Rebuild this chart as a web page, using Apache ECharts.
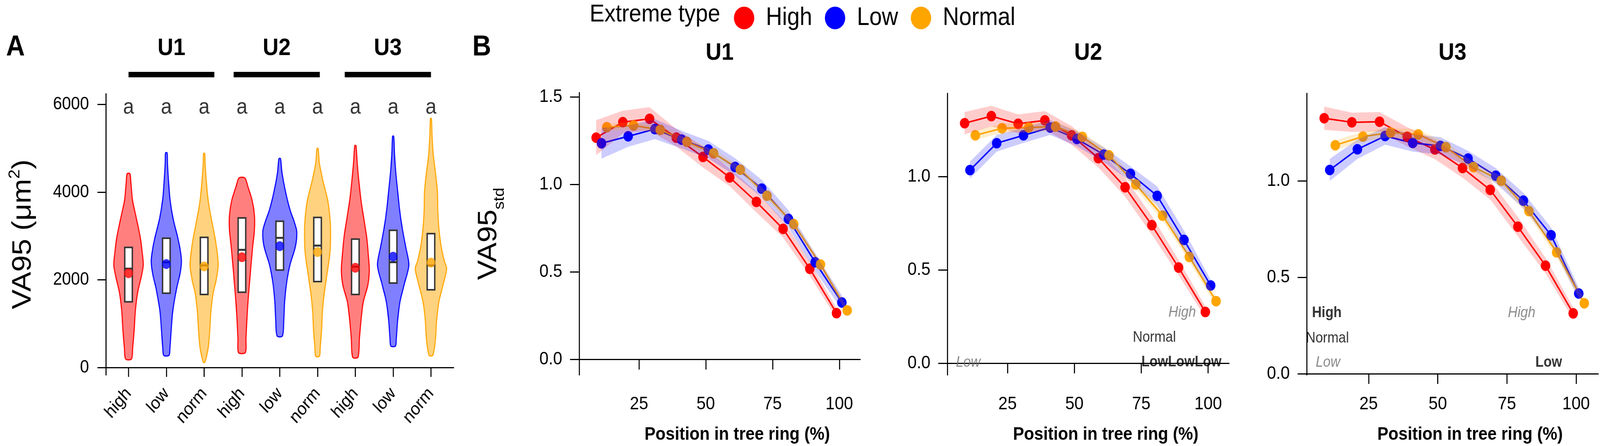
<!DOCTYPE html>
<html>
<head>
    <meta charset="utf-8">
    <title>VA95 by extreme type</title>
    <script src="https://cdn.jsdelivr.net/npm/echarts@6/dist/echarts.min.js"></script>
    <style>html, body { margin: 0; padding: 0; background: #fff; overflow: hidden; }</style>
</head>
<body>
    <div id="main" style="width:4550px;height:1142px;"></div>
    <script type="text/javascript">
        var FONT = "Liberation Sans, Arial, Helvetica, sans-serif";
        var COLORS = { High: "#FF0000", Low: "#0000FF", Normal: "#FFA500" };
        var FILLS = { High: "rgba(255,0,0,0.5)", Low: "rgba(0,0,255,0.5)", Normal: "rgba(255,165,0,0.5)" };
        var BANDS = { High: "rgba(255,0,0,0.2)", Low: "rgba(0,0,255,0.2)", Normal: "rgba(255,165,0,0.2)" };

        // ---- panel A : VA95 violins ----
        var violinLabels = ["high", "low", "norm", "high", "low", "norm", "high", "low", "norm"];
        var violinPos = [1, 2, 3, 4, 5, 6, 7, 8, 9];
        var sigLetters = ["a", "a", "a", "a", "a", "a", "a", "a", "a"];
        // [VA95, half width] from top to bottom of each violin
        var violinShapes = [
            [[4421, 0.036], [4232, 0.06], [3811, 0.107], [3391, 0.21], [2970, 0.31], [2634, 0.36], [2339, 0.39], [2045, 0.33], [1708, 0.24], [1288, 0.18], [868, 0.15], [447, 0.11], [194, 0.077]],
            [[4896, 0.02], [4652, 0.03], [4232, 0.06], [3811, 0.10], [3391, 0.18], [2970, 0.30], [2718, 0.36], [2423, 0.40], [2129, 0.36], [1793, 0.27], [1288, 0.17], [868, 0.13], [447, 0.095], [279, 0.07]],
            [[4883, 0.015], [4652, 0.024], [4232, 0.06], [3811, 0.107], [3391, 0.19], [2970, 0.285], [2549, 0.356], [2297, 0.37], [1961, 0.31], [1708, 0.24], [1288, 0.18], [868, 0.15], [447, 0.107], [119, 0.02]],
            [[4324, 0.077], [4147, 0.15], [3811, 0.27], [3475, 0.33], [3138, 0.33], [2760, 0.285], [2339, 0.24], [1919, 0.20], [1498, 0.16], [1078, 0.13], [657, 0.107], [342, 0.09]],
            [[4766, 0.02], [4442, 0.06], [4021, 0.15], [3601, 0.27], [3306, 0.39], [3096, 0.45], [2760, 0.415], [2339, 0.27], [1919, 0.18], [1498, 0.13], [1078, 0.107], [720, 0.07]],
            [[4997, 0.015], [4652, 0.05], [4232, 0.15], [3811, 0.27], [3391, 0.33], [3054, 0.345], [2634, 0.33], [2129, 0.25], [1708, 0.18], [1288, 0.13], [868, 0.107], [447, 0.07], [258, 0.05]],
            [[5064, 0.015], [4652, 0.05], [4232, 0.095], [3811, 0.15], [3391, 0.225], [2970, 0.30], [2549, 0.345], [2213, 0.37], [1877, 0.33], [1498, 0.21], [1078, 0.15], [657, 0.107], [237, 0.07]],
            [[5274, 0.015], [4862, 0.036], [4442, 0.07], [4021, 0.12], [3601, 0.17], [3180, 0.24], [2760, 0.33], [2339, 0.415], [1919, 0.30], [1498, 0.18], [1078, 0.12], [657, 0.083], [489, 0.06]],
            [[5682, 0.012], [5283, 0.03], [4862, 0.06], [4442, 0.12], [4021, 0.17], [3601, 0.18], [3180, 0.21], [2760, 0.27], [2423, 0.356], [2255, 0.415], [1919, 0.33], [1498, 0.21], [1078, 0.15], [657, 0.12], [279, 0.05]]
        ];
        var boxQ1 = [1498, 1696, 1666, 1717, 2222, 1961, 1667, 1927, 1772];
        var boxMedian = [2255, 2400, 2330, 2684, 2957, 2781, 2300, 2402, 2330];
        var boxQ3 = [2739, 2949, 2970, 3412, 3336, 3424, 2928, 3130, 3054];
        var groupMeans = [2150, 2360, 2306, 2516, 2768, 2634, 2276, 2528, 2394];
        var unitNames = ["U1", "U2", "U3"];
        var unitBarFrom = [1.0, 3.78, 6.72];
        var unitBarTo = [3.27, 6.06, 9.0];

        // ---- panel B : VA95std along the ring ----
        var ringPos = [10, 20, 30, 40, 50, 60, 70, 80, 90, 100];
        var extremeTypes = ["High", "Low", "Normal"];
        var dodge = { High: -1.05, Low: 0.95, Normal: 2.95 };

        var u1High = [1.267, 1.356, 1.375, 1.267, 1.157, 1.040, 0.900, 0.746, 0.518, 0.264];
        var u1Low = [1.235, 1.275, 1.316, 1.256, 1.199, 1.100, 0.976, 0.803, 0.555, 0.325];
        var u1Normal = [1.327, 1.337, 1.312, 1.243, 1.178, 1.084, 0.935, 0.773, 0.542, 0.280];
        var u1HighCI = [0.10, 0.065, 0.067, 0.05, 0.06, 0.05, 0.06, 0.05, 0.04, 0.03];
        var u1LowCI = [0.088, 0.06, 0.057, 0.05, 0.05, 0.05, 0.05, 0.05, 0.05, 0.04];
        var u1NormalCI = [0.02, 0.02, 0.02, 0.02, 0.02, 0.02, 0.02, 0.02, 0.02, 0.02];

        var u2High = [1.285, 1.323, 1.282, 1.300, 1.220, 1.098, 0.942, 0.739, 0.512, 0.274];
        var u2Low = [1.034, 1.178, 1.220, 1.262, 1.201, 1.117, 1.014, 0.896, 0.660, 0.416];
        var u2Normal = [1.220, 1.258, 1.262, 1.267, 1.212, 1.113, 0.957, 0.790, 0.569, 0.332];
        var u2HighCI = [0.06, 0.055, 0.05, 0.05, 0.05, 0.05, 0.05, 0.05, 0.04, 0.03];
        var u2LowCI = [0.045, 0.045, 0.04, 0.04, 0.04, 0.04, 0.04, 0.05, 0.05, 0.03];
        var u2NormalCI = [0.025, 0.025, 0.025, 0.025, 0.025, 0.025, 0.025, 0.025, 0.025, 0.025];

        var u3High = [1.324, 1.303, 1.306, 1.228, 1.162, 1.066, 0.953, 0.762, 0.560, 0.313];
        var u3Low = [1.056, 1.163, 1.232, 1.196, 1.181, 1.115, 1.026, 0.897, 0.718, 0.416];
        var u3Normal = [1.184, 1.229, 1.250, 1.240, 1.174, 1.071, 1.000, 0.843, 0.629, 0.365];
        var u3HighCI = [0.06, 0.05, 0.05, 0.05, 0.05, 0.05, 0.05, 0.05, 0.04, 0.03];
        var u3LowCI = [0.057, 0.05, 0.045, 0.045, 0.045, 0.04, 0.04, 0.04, 0.04, 0.03];
        var u3NormalCI = [0.025, 0.025, 0.025, 0.025, 0.025, 0.025, 0.025, 0.025, 0.025, 0.025];

        // stray text labels inside U2 / U3
        var u2AnnotX = [10.3, 90.3, 79.9, 90.0];
        var u2AnnotY = [0.004, 0.27, 0.136, 0.004];
        var u2AnnotText = ["Low", "High", "Normal", "LowLowLow"];
        var u2AnnotStyle = ["gi", "gi", "p", "b"];
        var u3AnnotX = [9.9, 10.1, 10.3, 80.3, 90.1];
        var u3AnnotY = [0.314, 0.184, 0.057, 0.314, 0.057];
        var u3AnnotText = ["High", "Normal", "Low", "High", "Low"];
        var u3AnnotStyle = ["b", "p", "gi", "gi", "b"];

        var panelValues = [
            { High: u1High, Low: u1Low, Normal: u1Normal },
            { High: u2High, Low: u2Low, Normal: u2Normal },
            { High: u3High, Low: u3Low, Normal: u3Normal }
        ];
        var panelCI = [
            { High: u1HighCI, Low: u1LowCI, Normal: u1NormalCI },
            { High: u2HighCI, Low: u2LowCI, Normal: u2NormalCI },
            { High: u3HighCI, Low: u3LowCI, Normal: u3NormalCI }
        ];

        // ---- layout (drawn on a 4550 x 1142 board, then fitted to the window) ----
        var grids = [
            { left: 301, top: 240, width: 989, height: 720 },
            { left: 1647, top: 237, width: 799, height: 723 },
            { left: 2694, top: 239, width: 801, height: 721 },
            { left: 3716, top: 239, width: 829, height: 721 }
        ];
        var yRanges = [[-169, 6245], [-0.089, 1.525], [-0.063, 1.445], [-0.006, 1.453]];
        var xRanges = [[0.4, 9.6], [2.6, 107.8], [2.5, 107.8], [2.64, 108]];
        var BOX_HALF = 0.10;

        function typeOf(label) {
            return label === "high" ? "High" : (label === "low" ? "Low" : "Normal");
        }

        var axisLine = { lineStyle: { color: "#000", width: 3 } };
        var axisTickStyle = { color: "#000", width: 3 };

        var xAxes = [{
            type: "value", gridIndex: 0, min: xRanges[0][0], max: xRanges[0][1],
            axisLine: axisLine, splitLine: { show: false },
            axisTick: { customValues: violinPos, length: 24, lineStyle: axisTickStyle },
            axisLabel: {
                customValues: violinPos, rotate: 48, margin: 40,
                fontSize: 46, fontFamily: FONT, color: "#000",
                formatter: function (v) { return violinLabels[Math.round(v) - 1]; }
            }
        }];
        var yAxes = [{
            type: "value", gridIndex: 0, min: yRanges[0][0], max: yRanges[0][1],
            axisLine: { show: true, lineStyle: { color: "#000", width: 3 } }, splitLine: { show: false },
            axisTick: { show: true, customValues: [0, 2000, 4000, 6000], length: 24, lineStyle: axisTickStyle },
            axisLabel: {
                customValues: [0, 2000, 4000, 6000], margin: 48, fontSize: 46, fontFamily: FONT, color: "#000",
                formatter: function (v) { return String(v); }
            },
            name: "{t|VA95 (\u03bcm}{s|2}{t|)}", nameLocation: "middle", nameGap: 190,
            nameTextStyle: {
                rich: {
                    t: { fontSize: 76, fontFamily: FONT, color: "#000", lineHeight: 90 },
                    s: { fontSize: 44, fontFamily: FONT, color: "#000", lineHeight: 44, verticalAlign: "top" }
                }
            }
        }];
        for (var p = 1; p <= 3; p++) {
            xAxes.push({
                type: "value", gridIndex: p, min: xRanges[p][0], max: xRanges[p][1],
                axisLine: axisLine, splitLine: { show: false },
                axisTick: { customValues: [25, 50, 75, 100], length: 26, lineStyle: axisTickStyle },
                axisLabel: { customValues: [25, 50, 75, 100], margin: 52, fontSize: 47, fontFamily: FONT, color: "#000" },
                name: "Position in tree ring (%)", nameLocation: "middle", nameGap: 130,
                nameTextStyle: { fontSize: 47, fontWeight: "bold", fontFamily: FONT, color: "#000", padding: [0, 0, 0, 100] }
            });
            var yTicks = p === 1 ? [0, 0.5, 1, 1.5] : [0, 0.5, 1];
            var ya = {
                type: "value", gridIndex: p, min: yRanges[p][0], max: yRanges[p][1],
                axisLine: { show: true, lineStyle: { color: "#000", width: 3 } }, splitLine: { show: false },
                axisTick: { show: true, customValues: yTicks, length: 26, lineStyle: axisTickStyle },
                axisLabel: {
                    customValues: yTicks, margin: 48, fontSize: 47, fontFamily: FONT, color: "#000",
                    formatter: function (v) { return v.toFixed(1); }
                }
            };
            if (p === 1) {
                ya.name = "{t|VA95}{s|std}";
                ya.nameLocation = "middle";
                ya.nameGap = 205;
                ya.nameTextStyle = {
                    rich: {
                        t: { fontSize: 76, fontFamily: FONT, color: "#000", lineHeight: 90, verticalAlign: "top" },
                        s: { fontSize: 42, fontFamily: FONT, color: "#000", lineHeight: 90, verticalAlign: "bottom" }
                    }
                };
            }
            yAxes.push(ya);
        }

        var series = [];

        // violins
        series.push({
            type: "custom", xAxisIndex: 0, yAxisIndex: 0, z: 2,
            data: violinPos.map(function (x, i) { return [x, groupMeans[i]]; }),
            renderItem: function (params, api) {
                var i = params.dataIndex;
                var pos = api.value(0);
                var shape = violinShapes[i];
                var pts = [], k;
                for (k = 0; k < shape.length; k++) pts.push(api.coord([pos + shape[k][1], shape[k][0]]));
                for (k = shape.length - 1; k >= 0; k--) pts.push(api.coord([pos - shape[k][1], shape[k][0]]));
                var t = typeOf(violinLabels[i]);
                return {
                    type: "polygon", shape: { points: pts, smooth: 0.3 },
                    style: { fill: FILLS[t], stroke: COLORS[t], lineWidth: 3 }
                };
            }
        });
        // boxes
        series.push({
            type: "custom", xAxisIndex: 0, yAxisIndex: 0, z: 3,
            data: violinPos.map(function (x, i) { return [x, boxQ1[i], boxMedian[i], boxQ3[i]]; }),
            renderItem: function (params, api) {
                var pos = api.value(0);
                var tl = api.coord([pos - BOX_HALF, api.value(3)]);
                var br = api.coord([pos + BOX_HALF, api.value(1)]);
                var ml = api.coord([pos - BOX_HALF, api.value(2)]);
                var mr = api.coord([pos + BOX_HALF, api.value(2)]);
                return {
                    type: "group", children: [
                        { type: "rect", shape: { x: tl[0], y: tl[1], width: br[0] - tl[0], height: br[1] - tl[1] },
                          style: { fill: "#fff", stroke: "#333", lineWidth: 4 } },
                        { type: "line", shape: { x1: ml[0], y1: ml[1], x2: mr[0], y2: mr[1] },
                          style: { stroke: "#333", lineWidth: 5 } }
                    ]
                };
            }
        });
        // means
        series.push({
            type: "scatter", xAxisIndex: 0, yAxisIndex: 0, z: 4, symbolSize: 25,
            data: violinPos.map(function (x, i) {
                return { value: [x, groupMeans[i]], itemStyle: { color: COLORS[typeOf(violinLabels[i])] } };
            })
        });
        // significance letters
        series.push({
            type: "scatter", xAxisIndex: 0, yAxisIndex: 0, symbolSize: 0,
            data: violinPos.map(function (x) { return [x, 5930]; }),
            label: {
                show: true, position: "inside", fontSize: 56, fontFamily: FONT, color: "#000",
                formatter: function (d) { return sigLetters[d.dataIndex]; }
            }
        });
        // unit bars over panel A
        series.push({
            type: "custom", xAxisIndex: 0, yAxisIndex: 0, clip: false,
            data: unitNames.map(function (n, i) { return [unitBarFrom[i], unitBarTo[i]]; }),
            renderItem: function (params, api) {
                var a = api.coord([api.value(0), 6681]);
                var b = api.coord([api.value(1), 6681]);
                var c = api.coord([(api.value(0) + api.value(1)) / 2, 7278]);
                return {
                    type: "group", children: [
                        { type: "line", shape: { x1: a[0], y1: a[1], x2: b[0], y2: b[1] }, style: { stroke: "#000", lineWidth: 14 } },
                        { type: "text", x: c[0], y: c[1], style: {
                            text: unitNames[params.dataIndex], align: "center", verticalAlign: "middle",
                            fontSize: 62, fontWeight: "bold", fontFamily: FONT, fill: "#000" } }
                    ]
                };
            }
        });

        // panel B lines, points and ribbons
        function bandRenderer(vals, ci, off, fill) {
            return function (params, api) {
                var upper = [], lower = [];
                for (var k = 0; k < ringPos.length; k++) {
                    upper.push(api.coord([ringPos[k] + off, vals[k] + ci[k]]));
                    lower.unshift(api.coord([ringPos[k] + off, vals[k] - ci[k]]));
                }
                return { type: "polygon", shape: { points: upper.concat(lower) }, style: { fill: fill } };
            };
        }
        for (var q = 0; q < 3; q++) {
            extremeTypes.forEach(function (t) {
                var vals = panelValues[q][t];
                series.push({
                    name: t, type: "line", xAxisIndex: q + 1, yAxisIndex: q + 1, z: 2,
                    symbol: "circle", symbolSize: 27,
                    itemStyle: { color: COLORS[t] }, lineStyle: { color: COLORS[t], width: 4 },
                    data: ringPos.map(function (x, k) { return [x + dodge[t], vals[k]]; })
                });
                series.push({
                    type: "custom", xAxisIndex: q + 1, yAxisIndex: q + 1, z: 3,
                    data: [[ringPos[0] + dodge[t], vals[0]]],
                    renderItem: bandRenderer(vals, panelCI[q][t], dodge[t], BANDS[t])
                });
            });
        }

        var annotStyles = {
            gi: { fontStyle: "italic", fontWeight: "normal", color: "#6e6e6e" },
            p: { fontStyle: "normal", fontWeight: "normal", color: "#000" },
            b: { fontStyle: "normal", fontWeight: "bold", color: "#000" }
        };
        function annotSeries(axis, xs, ys, texts, styles) {
            return {
                type: "scatter", xAxisIndex: axis, yAxisIndex: axis, symbolSize: 0, z: 5,
                data: xs.map(function (x, i) {
                    var s = annotStyles[styles[i]];
                    return {
                        value: [x, ys[i]],
                        label: {
                            show: true, position: "inside", formatter: texts[i], fontSize: 38, fontFamily: FONT,
                            fontStyle: s.fontStyle, fontWeight: s.fontWeight, color: s.color
                        }
                    };
                })
            };
        }
        series.push(annotSeries(2, u2AnnotX, u2AnnotY, u2AnnotText, u2AnnotStyle));
        series.push(annotSeries(3, u3AnnotX, u3AnnotY, u3AnnotText, u3AnnotStyle));

        var graphics = [
            { type: "text", x: 44, y: 122, style: { text: "A", align: "center", verticalAlign: "middle", fontSize: 74, fontWeight: "bold", fontFamily: FONT, fill: "#000" } },
            { type: "text", x: 1370, y: 122, style: { text: "B", align: "center", verticalAlign: "middle", fontSize: 74, fontWeight: "bold", fontFamily: FONT, fill: "#000" } },
            { type: "text", x: 2048, y: 38, style: { text: "Extreme type", align: "right", verticalAlign: "middle", fontSize: 63, fontFamily: FONT, fill: "#000" } }
        ];
        for (var g = 1; g <= 3; g++) {
            graphics.push({
                type: "text", x: grids[g].left + grids[g].width / 2, y: 136,
                style: { text: unitNames[g - 1], align: "center", verticalAlign: "middle", fontSize: 62, fontWeight: "bold", fontFamily: FONT, fill: "#000" }
            });
        }

        // fit the 4550 x 1142 board into whatever the window really is
        var dom = document.getElementById("main");
        var fitX = window.innerWidth / 4550, fitY = window.innerHeight / 1142;
        dom.style.transformOrigin = "0 0";
        dom.style.transform = "scale(" + fitX + "," + fitY + ")";

        var chart = echarts.init(dom);
        chart.setOption({
            animation: false,
            backgroundColor: "#fff",
            grid: grids,
            xAxis: xAxes,
            yAxis: yAxes,
            legend: {
                data: extremeTypes, left: 2082, top: 9, icon: "circle",
                itemWidth: 58, itemHeight: 58, itemGap: 36,
                textStyle: { fontSize: 64, fontFamily: FONT, color: "#000", padding: [0, 0, 0, 28] }
            },
            graphic: graphics,
            series: series
        });
    </script>
</body>
</html>
